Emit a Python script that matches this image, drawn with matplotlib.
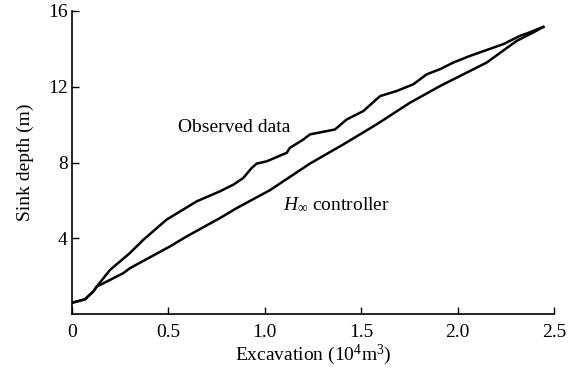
import numpy as np
import matplotlib
matplotlib.use("Agg")
import matplotlib.pyplot as plt

# fonts: Times-like serif everywhere, mathtext too
plt.rcParams['font.family'] = ['Liberation Serif', 'DejaVu Serif']
plt.rcParams['mathtext.fontset'] = 'custom'
plt.rcParams['mathtext.rm'] = 'Liberation Serif'
plt.rcParams['mathtext.it'] = 'Liberation Serif:italic'

# observed sink depth vs excavation
obs_x = [0.0, 0.067, 0.11, 0.128, 0.197, 0.30, 0.37, 0.49, 0.647, 0.768,
         0.837, 0.888, 0.932, 0.958, 1.01, 1.114, 1.13, 1.2, 1.234, 1.364,
         1.425, 1.511, 1.598, 1.684, 1.77, 1.84, 1.909, 1.978, 2.064, 2.237,
         2.324, 2.358, 2.445]
obs_y = [0.61, 0.79, 1.2, 1.46, 2.34, 3.23, 3.93, 4.99, 5.96, 6.49,
         6.84, 7.19, 7.72, 7.95, 8.07, 8.52, 8.78, 9.22, 9.49, 9.75,
         10.28, 10.72, 11.51, 11.78, 12.13, 12.66, 12.93, 13.28, 13.63, 14.25,
         14.69, 14.81, 15.16]

# H-infinity controller output
ctl_x = [0.0, 0.067, 0.11, 0.128, 0.163, 0.266, 0.30, 0.508, 0.595, 0.768,
         0.854, 1.027, 1.234, 1.407, 1.58, 1.753, 1.909, 2.151, 2.306, 2.393,
         2.445]
ctl_y = [0.61, 0.79, 1.2, 1.46, 1.64, 2.17, 2.43, 3.58, 4.11, 5.08,
         5.6, 6.55, 7.95, 8.96, 10.02, 11.16, 12.04, 13.28, 14.42, 14.87,
         15.16]

x_ticks = [0, 0.5, 1.0, 1.5, 2.0, 2.5]
x_labels = ['0', '0.5', '1.0', '1.5', '2.0', '2.5']
y_ticks = [4, 8, 12, 16]

fig = plt.figure(figsize=(5.72, 3.71), dpi=100)
ax = fig.add_axes([0.1259, 0.1528, 0.8426, 0.8176])

ax.plot(obs_x, obs_y, color='black', lw=1.8)
ax.plot(ctl_x, ctl_y, color='black', lw=1.8)

ax.text(0.55, 9.86, 'Observed data', fontsize=14, va='center', ha='left')
ax.text(1.095, 5.78, r'$H_\infty$ controller', fontsize=14, va='center', ha='left')

ax.set_xlim(0, 2.5)
ax.set_ylim(0, 16)
ax.set_xticks(x_ticks)
ax.set_xticklabels(x_labels)
ax.set_yticks(y_ticks)

for s in ['top', 'right']:
    ax.spines[s].set_visible(False)
for s in ['left', 'bottom']:
    ax.spines[s].set_linewidth(1.2)

ax.tick_params(axis='both', direction='in', length=5, width=1.0, labelsize=14)
ax.tick_params(axis='x', pad=7)
ax.tick_params(axis='y', pad=3)

ax.set_xlabel('Excavation (10$^4$m$^3$)', fontsize=14, labelpad=1)
ax.set_ylabel('Sink depth (m)', fontsize=14, labelpad=10)

fig.savefig('out.png', dpi=100)
